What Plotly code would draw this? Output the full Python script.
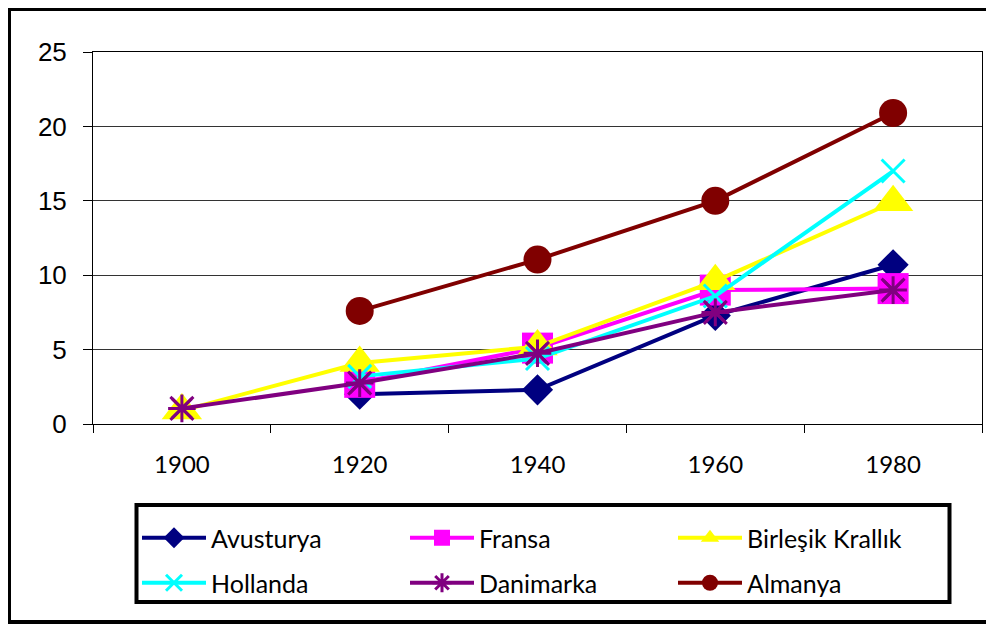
import plotly.graph_objects as go

years = ["1900", "1920", "1940", "1960", "1980"]
avusturya = [None, 2.0, 2.3, 7.3, 10.7]
fransa = [None, 2.8, 5.1, 9.0, 9.1]
birlesik = [0.9, 4.1, 5.2, 9.6, 14.9]
hollanda = [None, 3.2, 4.4, 8.6, 17.0]
danimarka = [1.05, 2.75, 4.75, 7.5, 9.0]
almanya = [None, 7.6, 11.05, 15.0, 20.9]

# page body margin offset (screen px = figure px + OFF)
OFF = 8
W, H = 994 - OFF, 627 - OFF
# plot area in screen px: x 93..982, y 52..424
L = 93 - OFF
T = 52 - OFF
R = W - (982 - OFF)
B = H - (424 - OFF)
PW, PH = W - L - R, H - T - B


def px_x(p):
    return (p - OFF - L) / PW


def px_y(p):
    return (H - B - (p - OFF)) / PH


fig = go.Figure()


def add(name, y, color, symbol, size, legend, open_sym=False):
    marker = dict(symbol=symbol, size=size, color=color)
    if open_sym:
        marker["line"] = dict(color=color, width=3)
    fig.add_trace(go.Scatter(
        x=years, y=y, name=name, mode="lines+markers",
        line=dict(color=color, width=4), marker=marker,
        legend=legend, connectgaps=False, cliponaxis=False,
    ))


add("Avusturya", avusturya, "#000080", "diamond", 24, "legend")
add("Fransa", fransa, "#FF00FF", "square", 31, "legend")
add("Birleşik Krallık", birlesik, "#FFFF00", "triangle-up", 35, "legend")
add("Hollanda", hollanda, "#00FFFF", "x-thin-open", 23, "legend2", True)
add("Danimarka", danimarka, "#800080", "asterisk-open", 23, "legend2", True)
fig.add_trace(go.Scatter(
    x=years, y=danimarka, mode="markers", showlegend=False, hoverinfo="skip",
    cliponaxis=False,
    marker=dict(symbol="x-thin-open", size=23, color="#800080",
                line=dict(color="#800080", width=3)),
))
add("Almanya", almanya, "#800000", "circle", 28, "legend2")

legend_common = dict(
    orientation="h", xanchor="left", yanchor="middle",
    font=dict(family="Lato", size=25, color="black"),
    bgcolor="rgba(0,0,0,0)", borderwidth=0,
    itemwidth=64, entrywidth=189, entrywidthmode="pixels",
)

fig.update_layout(
    width=W, height=H,
    margin=dict(l=L, r=R, t=T, b=B, pad=0),
    paper_bgcolor="white", plot_bgcolor="white",
    showlegend=True,
    legend=dict(x=px_x(137), y=px_y(538), **legend_common),
    legend2=dict(x=px_x(137), y=px_y(583), **legend_common),
    xaxis=dict(
        type="category", categoryorder="array", categoryarray=years,
        range=[-0.5, 4.5],
        showgrid=False, showline=True, linecolor="black", linewidth=1,
        mirror=True,
        ticks="outside", tickson="boundaries", ticklen=8, tickcolor="black",
        tickfont=dict(family="Lato", size=24, color="black"),
        ticklabelstandoff=19,
    ),
    yaxis=dict(
        range=[0, 25], dtick=5, tick0=0,
        showgrid=True, gridcolor="#333333", gridwidth=1,
        zeroline=False,
        showline=True, linecolor="black", linewidth=1, mirror=True,
        ticks="outside", ticklen=9, tickcolor="black",
        tickfont=dict(family="Liberation Sans", size=26, color="black"),
        ticklabelstandoff=11,
    ),
    shapes=[
        dict(type="rect", xref="paper", yref="paper",
             x0=px_x(9), x1=px_x(989), y0=px_y(622), y1=px_y(9),
             line=dict(color="black", width=4), fillcolor="rgba(0,0,0,0)"),
        dict(type="rect", xref="paper", yref="paper",
             x0=px_x(136.5), x1=px_x(949.5), y0=px_y(602), y1=px_y(505),
             line=dict(color="black", width=4), fillcolor="rgba(0,0,0,0)"),
    ],
)

fig.write_html("out.html")
